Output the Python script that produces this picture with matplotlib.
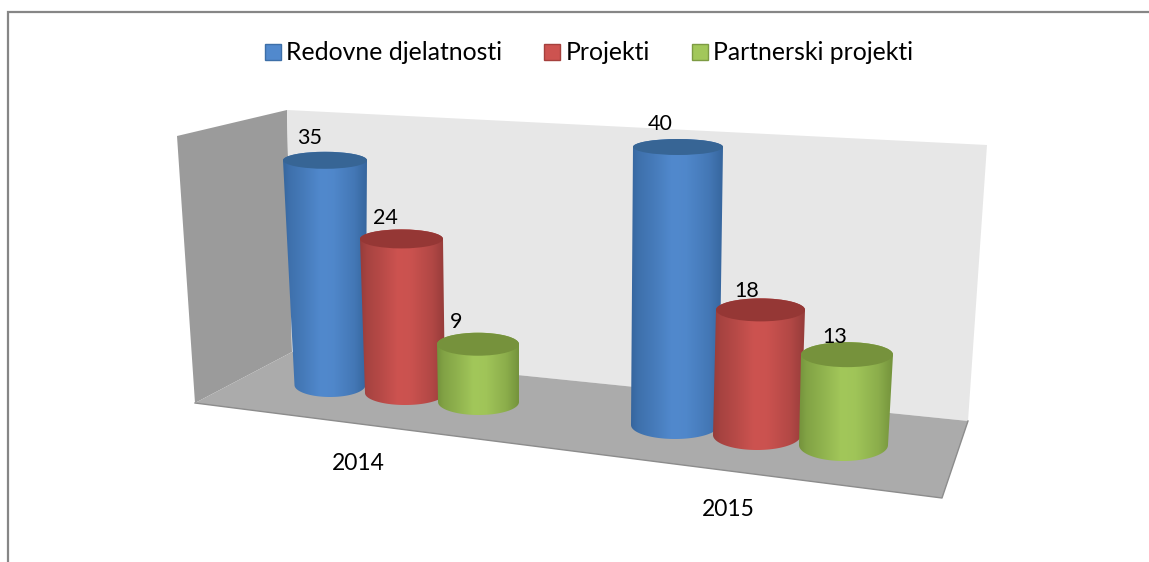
import numpy as np
import matplotlib
matplotlib.use("Agg")
import matplotlib.pyplot as plt
from matplotlib.patches import Polygon, Ellipse, Patch
from matplotlib.colors import LinearSegmentedColormap

categories = ["2014", "2015"]
series = ["Redovne djelatnosti", "Projekti", "Partnerski projekti"]
redovne = [35, 40]
projekti = [24, 18]
partnerski = [9, 13]

W, H = 1149, 562
plt.rcParams['font.family'] = ['Lato', 'DejaVu Sans']
fig = plt.figure(figsize=(W / 100, H / 100), dpi=100, facecolor='white')
ax = fig.add_axes([0, 0, 1, 1])
ax.set_xlim(0, W)
ax.set_ylim(H, 0)
ax.axis('off')

# frame
ax.plot([8, 8, W], [H, 12, 12], color='#868686', lw=1.6, solid_joinstyle='miter')

# walls and floor
ax.add_patch(Polygon([(177, 136), (287, 110), (292, 352), (195, 403)], fc='#9B9B9B', ec='none'))
ax.add_patch(Polygon([(287, 110), (987, 145), (968, 421), (292, 352)], fc='#E7E7E7', ec='none'))
ax.add_patch(Polygon([(195, 403), (292, 352), (968, 421), (942, 498)], fc='#ABABAB', ec='none'))
ax.plot([195, 942, 968], [403, 498, 421], color='#8C8C8C', lw=1)

# per-category vertical scale (px per unit), from the perspective of the plot
scale = [6.42, 6.95]
# geometry per cylinder: base cx, base half width, base y, base b, top cx, top half width, top b
geom = {
    (0, 0): (330, 35.5, 385, 12, 325, 42, 8.5),
    (0, 1): (405, 40, 393, 12, 401.5, 41.5, 9.5),
    (0, 2): (478.5, 40.5, 402, 13, 478, 41, 11.5),
    (1, 0): (675, 44, 425, 14, 678, 45, 8),
    (1, 1): (757, 44, 435, 15, 760.5, 44.5, 11.5),
    (1, 2): (843.5, 44.5, 445, 16, 847, 46, 12.5),
}
palette = [
    ('#36669E', '#5189CD', '#376595', '#3D6FA8'),
    ('#963C3A', '#CD5350', '#953735', '#A5403D'),
    ('#74933C', '#A2C75A', '#76923C', '#7D9B43'),
]
values = [redovne, projekti, partnerski]
label_xy = {(0, 0): (310, 138), (0, 1): (385, 218), (0, 2): (456, 322),
            (1, 0): (660, 124), (1, 1): (747, 291), (1, 2): (835, 337)}


def cylinder(c, s):
    val = values[s][c]
    bx, bw, by, bb, tx, tw, tb = geom[(c, s)]
    ty = by - val * scale[c]
    edge, mid, top, _ = palette[s]
    t = np.linspace(np.pi, 0, 60)
    low = np.column_stack([bx + bw * np.cos(t), by + bb * np.sin(t)])
    a = np.linspace(0, np.pi, 60)
    up = np.column_stack([tx + tw * np.cos(a), ty - tb * np.sin(a)])
    path = Polygon(np.vstack([low, up]), closed=True, fc='none', ec='none', transform=ax.transData)
    ax.add_patch(path)
    cmap = LinearSegmentedColormap.from_list('c', [edge, mid], N=256)
    grad = np.interp(np.linspace(0, 1, 256), [0, .08, .25, .45, .6, .85, 1],
                     [0, .3, .6, 1, .95, .5, 0])[None, :]
    x0, x1 = min(bx - bw, tx - tw), max(bx + bw, tx + tw)
    z = 2 + s * 0.1 + c
    im = ax.imshow(grad, cmap=cmap, extent=(x0, x1, by + bb + 1, ty - tb - 1), aspect='auto',
                   vmin=0, vmax=1, zorder=z, interpolation='bilinear')
    im.set_clip_path(path)
    ax.add_patch(Ellipse((tx, ty), 2 * tw, 2 * tb, fc=top, ec='none', zorder=z + 0.05))
    ax.set_xlim(0, W)
    ax.set_ylim(H, 0)


for c in range(len(categories)):
    for s in range(len(series)):
        cylinder(c, s)
        ax.text(*label_xy[(c, s)], str(values[s][c]), fontsize=15.5, ha='center', va='center',
                color='black', zorder=10)

ax.text(358, 463, categories[0], fontsize=16.5, ha='center', va='center', color='black')
ax.text(728, 510, categories[1], fontsize=16.5, ha='center', va='center', color='black')

handles = [Patch(fc=palette[i][1], ec=palette[i][3], lw=1) for i in range(3)]
ax.legend(handles, series, loc='center', bbox_to_anchor=(589 / W, 1 - 53 / H), ncol=3, frameon=False,
          fontsize=17.8, handlelength=0.65, handleheight=0.65, handletextpad=0.2, columnspacing=1.72)

fig.savefig('out.png', dpi=100, facecolor='white')
